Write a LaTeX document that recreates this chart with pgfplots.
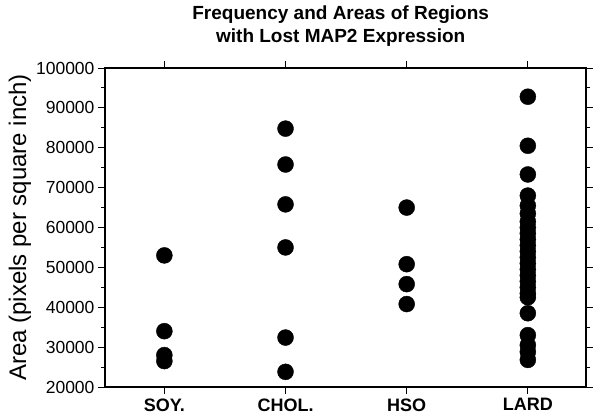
\documentclass[border=0pt]{standalone}
\usepackage{pgfplots}
\pgfplotsset{compat=1.18}
\usepackage{fontspec}
\setmainfont{Liberation Sans}

\begin{document}
\begin{tikzpicture}
\path[use as bounding box] (-105pt,-31pt) rectangle (495pt,387pt);
\begin{axis}[
  scale only axis, width=481pt, height=319pt,
  at={(0pt,0pt)}, anchor=south west,
  xmin=0.51, xmax=4.48, ymin=20000, ymax=100000,
  xtick={1,2,3,4}, xticklabels={SOY.,CHOL.,HSO,LARD},
  xticklabel style={font=\fontsize{18}{21}\selectfont\bfseries, yshift=-1pt},
  ytick distance=10000, minor y tick num=1,
  yticklabel style={font=\fontsize{17.5}{20}\selectfont},
  /pgf/number format/assume math mode=true,
  scaled y ticks=false,
  yticklabel={\pgfmathprintnumber[fixed,1000 sep={}]{\tick}},
  tick align=outside,
  major tick length=7pt, minor tick length=4pt,
  axis line style={line width=1.2pt},
  every tick/.style={black, line width=1pt},
  ylabel={Area (pixels per square inch)},
  every axis y label/.style={at={(axis description cs:-0.177,0.5)}, rotate=90, anchor=center, font=\fontsize{24}{28}\selectfont},
  title={Frequency and Areas of Regions\\with Lost MAP2 Expression},
  title style={font=\bfseries\fontsize{19}{23}\selectfont, align=center, at={(axis description cs:0.49,1)}, anchor=south, yshift=12pt},
]
\addplot[only marks, mark=*, mark size=8pt, black] table {
x y
1 53000
1 34000
1 28000
1 26500
};
\addplot[only marks, mark=*, mark size=8pt, black] table {
x y
2 84800
2 75800
2 65800
2 55000
2 32400
2 23800
};
\addplot[only marks, mark=*, mark size=8pt, black] table {
x y
3 65000
3 50800
3 45800
3 40800
};
\addplot[only marks, mark=*, mark size=8pt, black] table {
x y
4 92800
4 80500
4 73300
4 68000
4 65500
4 63500
4 61500
4 60000
4 58500
4 57000
4 55500
4 54000
4 52500
4 51000
4 49500
4 48000
4 46500
4 45000
4 43500
4 42500
4 38500
4 33000
4 30500
4 28800
4 26800
};
\end{axis}
\end{tikzpicture}
\end{document}
